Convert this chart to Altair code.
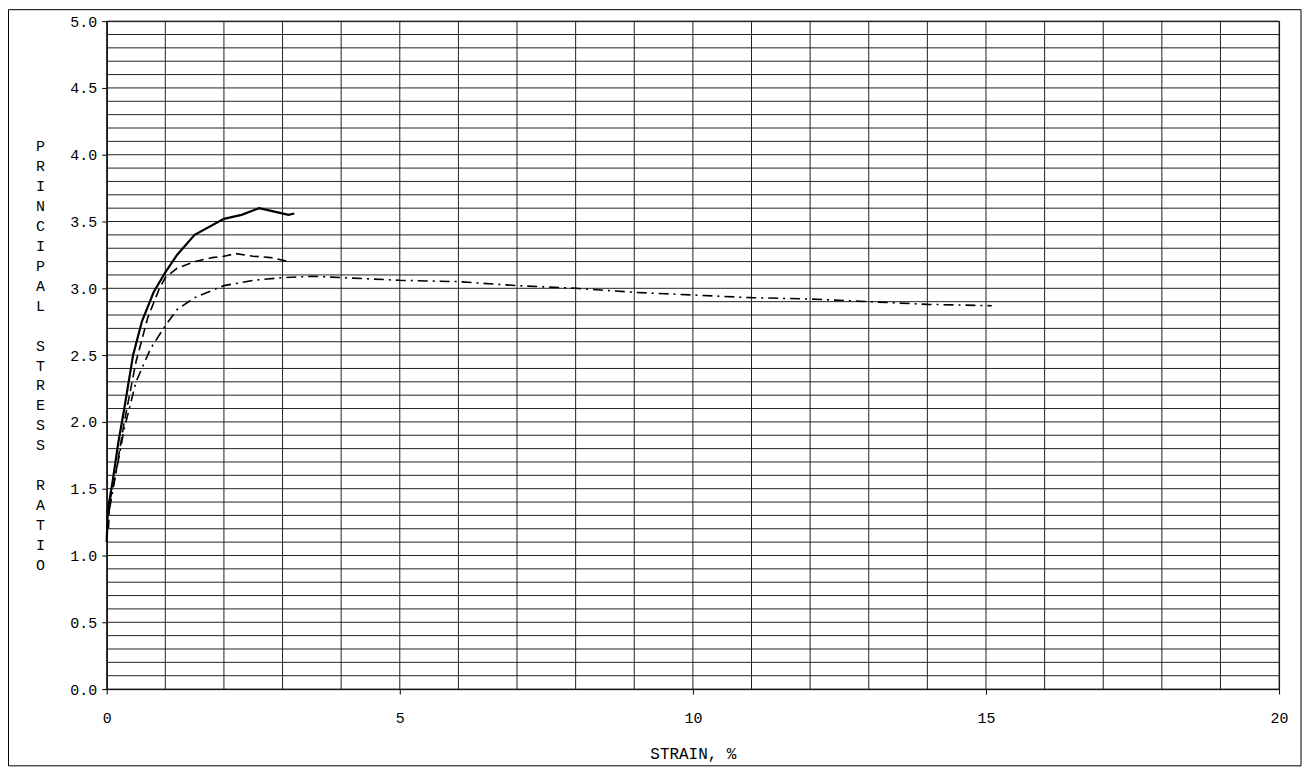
import altair as alt
import pandas as pd

# ---- data ----
solid_x = [0.0, 0.02, 0.05, 0.1, 0.2, 0.3, 0.45, 0.6, 0.8, 1.0, 1.2, 1.5, 2.0, 2.3, 2.6, 2.9, 3.1, 3.2]
solid_y = [1.1, 1.35, 1.42, 1.55, 1.85, 2.1, 2.5, 2.75, 2.97, 3.12, 3.25, 3.4, 3.52, 3.55, 3.6, 3.57, 3.55, 3.56]

dash_x = [0.03, 0.05, 0.15, 0.3, 0.5, 0.7, 0.9, 1.0, 1.2, 1.5, 1.8, 2.0, 2.2, 2.5, 2.8, 3.1]
dash_y = [1.2, 1.4, 1.6, 2.0, 2.45, 2.78, 3.0, 3.08, 3.15, 3.2, 3.23, 3.24, 3.26, 3.24, 3.23, 3.2]

dd_x = [0.05, 0.15, 0.3, 0.5, 0.75, 1.0, 1.2, 1.5, 2.0, 2.5, 3.0, 3.5, 4.0, 5.0, 6.0, 7.0, 8.0, 9.0,
        10.0, 11.0, 12.0, 13.0, 14.0, 15.1]
dd_y = [1.35, 1.6, 1.95, 2.3, 2.55, 2.72, 2.84, 2.93, 3.02, 3.06, 3.08, 3.09, 3.08, 3.06, 3.05, 3.02,
        3.0, 2.97, 2.95, 2.93, 2.92, 2.9, 2.88, 2.87]

x_grid = list(range(0, 21))
y_grid = [i / 10 for i in range(51)]
x_ticks = [0, 5, 10, 15, 20]
y_ticks = [i / 2 for i in range(11)]

ZW = "\u200b"
y_title = list("PRINCIPAL") + [ZW] + list("STRESS") + [ZW] + list("RATIO")

FONT = "Liberation Mono"
W, H = 1176, 670

xs = alt.Scale(domain=[0, 20], nice=False)
ys = alt.Scale(domain=[0, 5], nice=False)

def curve(xv, yv, name):
    return pd.DataFrame({"x": xv, "y": yv, "s": name})

d_solid = curve(solid_x, solid_y, "a")
d_dash = curve(dash_x, dash_y, "b")
d_dd = curve(dd_x, dd_y, "c")

vgrid = alt.Chart(pd.DataFrame({"x": x_grid})).mark_rule(color="#222", strokeWidth=1).encode(
    x=alt.X("x:Q", scale=xs,
            axis=alt.Axis(values=x_ticks, format="d", title="STRAIN, %", grid=False, tickSize=5,
                          tickColor="black", domainColor="black", labelPadding=17,
                          labelFlush=False,
                          labelFont=FONT, labelFontSize=15, labelColor="black",
                          titleFont=FONT, titleFontSize=16, titleFontWeight="normal",
                          titleColor="black", titlePadding=20))
)
hgrid = alt.Chart(pd.DataFrame({"y": y_grid})).mark_rule(color="#222", strokeWidth=1).encode(
    y=alt.Y("y:Q", scale=ys,
            axis=alt.Axis(values=y_ticks, format=".1f", grid=False, tickSize=5,
                          tickColor="black", domainColor="black", labelPadding=5,
                          labelFlush=False,
                          labelFont=FONT, labelFontSize=15, labelColor="black",
                          title=y_title, titleAngle=0, titleFont=FONT, titleFontSize=15,
                          titleFontWeight="normal", titleColor="black",
                          titleLineHeight=20, titleAlign="center", titleBaseline="top",
                          titleX=-67, titleY=118))
)

def line(df, dash, sw):
    kw = dict(color="black", strokeWidth=sw)
    if dash:
        kw["strokeDash"] = dash
    return alt.Chart(df).mark_line(**kw).encode(
        x=alt.X("x:Q", scale=xs), y=alt.Y("y:Q", scale=ys))

l1 = line(d_solid, None, 2.2)
l2 = line(d_dash, [9, 5], 1.6)
l3 = line(d_dd, [10, 5, 2, 5], 1.6)

border = alt.Chart(pd.DataFrame({"a": [0]})).mark_rect(
    fillOpacity=0, stroke="black", strokeWidth=1).encode(
    x=alt.value(-98.5), x2=alt.value(1198), y=alt.value(-11.5), y2=alt.value(747))

chart = alt.layer(vgrid, hgrid, l1, l2, l3, border).properties(
    width=W, height=H,
    autosize=alt.AutoSizeParams(type="none"),
    padding={"left": 99, "top": 12, "right": 25, "bottom": 80},
    background="white",
).configure_view(stroke="black", strokeWidth=1)

chart.save("out.html", embed_options={"renderer": "svg", "actions": False})
